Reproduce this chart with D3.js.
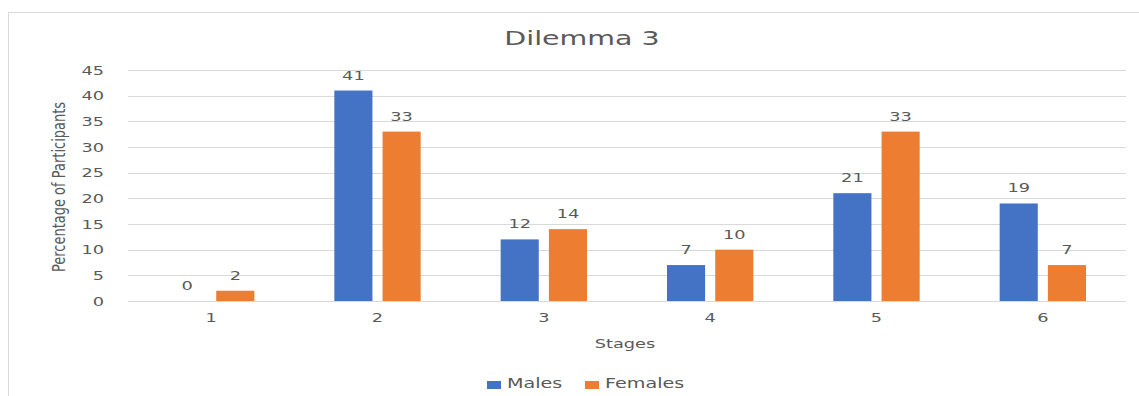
<!DOCTYPE html>
<html>
<head>
<meta charset="utf-8">
<script src="https://cdn.jsdelivr.net/npm/d3@7"></script>
<style>
  body { margin: 0; background: #fff; }
  text { font-family: "DejaVu Sans", sans-serif; fill: #595959; }
</style>
</head>
<body>
<svg width="1139" height="396"></svg>
<script>
// data
var stages = ["1", "2", "3", "4", "5", "6"];
var seriesNames = ["Males", "Females"];
var males = [0, 41, 12, 7, 21, 19];
var females = [2, 33, 14, 10, 33, 7];
var yTicks = [0, 5, 10, 15, 20, 25, 30, 35, 40, 45];

var colors = {"Males": "#4472c4", "Females": "#ed7d31"};

// the picture is stretched sideways, so text is too
var SX = 1.42;

var svg = d3.select("svg");

// frame of the chart
svg.append("rect")
    .attr("x", 8.5).attr("y", 12.5)
    .attr("width", 1140).attr("height", 400)
    .attr("fill", "white")
    .attr("stroke", "#d9d9d9");

var plot = {left: 128, right: 1126, top: 70, bottom: 301};

var x = d3.scaleBand()
    .domain(stages)
    .range([plot.left, plot.right]);
var x1 = d3.scaleBand()
    .domain(seriesNames)
    .range([40, x.bandwidth() - 40])
    .paddingInner(0.21);
var y = d3.scaleLinear()
    .domain([0, 45])
    .range([plot.bottom, plot.top]);

// put a text at (tx,ty) squeezed/stretched by sx
function label(parent, tx, ty, txt, size, anchor, sx) {
    return parent.append("text")
        .attr("transform", "translate(" + tx + "," + ty + ") scale(" + sx + ",1)")
        .attr("text-anchor", anchor)
        .attr("font-size", size)
        .text(txt);
}

// gridlines
svg.append("g")
    .selectAll("line")
    .data(yTicks)
    .enter()
    .append("line")
    .attr("x1", plot.left).attr("x2", plot.right)
    .attr("y1", function(d){ return Math.round(y(d)) + 0.5; })
    .attr("y2", function(d){ return Math.round(y(d)) + 0.5; })
    .attr("stroke", "#d9d9d9")
    .attr("stroke-width", 1);

// y axis labels
var yAxis = d3.axisLeft(y).tickValues(yTicks).tickSize(0).tickPadding(0);
var gy = svg.append("g")
    .attr("transform", "translate(" + (plot.left - 24) + ",0)")
    .call(yAxis);
gy.select(".domain").remove();
gy.selectAll("text")
    .attr("x", 0)
    .attr("transform", "scale(" + SX + ",1)")
    .attr("font-size", 12.5)
    .attr("font-family", "DejaVu Sans")
    .attr("fill", "#595959");

// x axis labels
var xAxis = d3.axisBottom(x).tickSize(0).tickPadding(0);
var gx = svg.append("g")
    .attr("transform", "translate(0," + (plot.bottom + 12) + ")")
    .call(xAxis);
gx.select(".domain").remove();
gx.selectAll("text")
    .attr("transform", "scale(" + SX + ",1)")
    .attr("font-size", 12.5)
    .attr("font-family", "DejaVu Sans")
    .attr("fill", "#595959");

// bars
var rows = stages.map(function(s, i){
    return {stage: s, values: [
        {name: "Males", value: males[i]},
        {name: "Females", value: females[i]}
    ]};
});

var groups = svg.append("g")
    .selectAll("g")
    .data(rows)
    .enter()
    .append("g")
    .attr("transform", function(d){ return "translate(" + x(d.stage) + ",0)"; });

groups.selectAll("rect")
    .data(function(d){ return d.values; })
    .enter()
    .append("rect")
    .attr("x", function(d){ return x1(d.name); })
    .attr("y", function(d){ return y(d.value); })
    .attr("width", x1.bandwidth())
    .attr("height", function(d){ return y(0) - y(d.value); })
    .attr("fill", function(d){ return colors[d.name]; });

groups.selectAll("text")
    .data(function(d){ return d.values; })
    .enter()
    .append("text")
    .attr("transform", function(d){
        return "translate(" + (x1(d.name) + x1.bandwidth() / 2) + "," + (y(d.value) - 11) + ") scale(" + SX + ",1)";
    })
    .attr("text-anchor", "middle")
    .attr("font-size", 12.5)
    .attr("fill", "#404040")
    .text(function(d){ return d.value; });

// title
label(svg, 582, 45, "Dilemma 3", 19, "middle", 1.5);

// axis titles
label(svg, 625, 348, "Stages", 12.5, "middle", SX);

svg.append("text")
    .attr("transform", "translate(65,187) rotate(-90) scale(1,1.4)")
    .attr("text-anchor", "middle")
    .attr("font-size", 13)
    .text("Percentage of Participants");

// legend
var legend = svg.append("g")
    .attr("transform", "translate(487,388)");
var lx = 0;
seriesNames.forEach(function(name){
    var item = legend.append("g").attr("transform", "translate(" + lx + ",0)");
    item.append("rect")
        .attr("x", 0).attr("y", -7)
        .attr("width", 14).attr("height", 8)
        .attr("fill", colors[name]);
    label(item, 20, 0, name, 13.5, "start", SX);
    lx += 98;
});
</script>
</body>
</html>
